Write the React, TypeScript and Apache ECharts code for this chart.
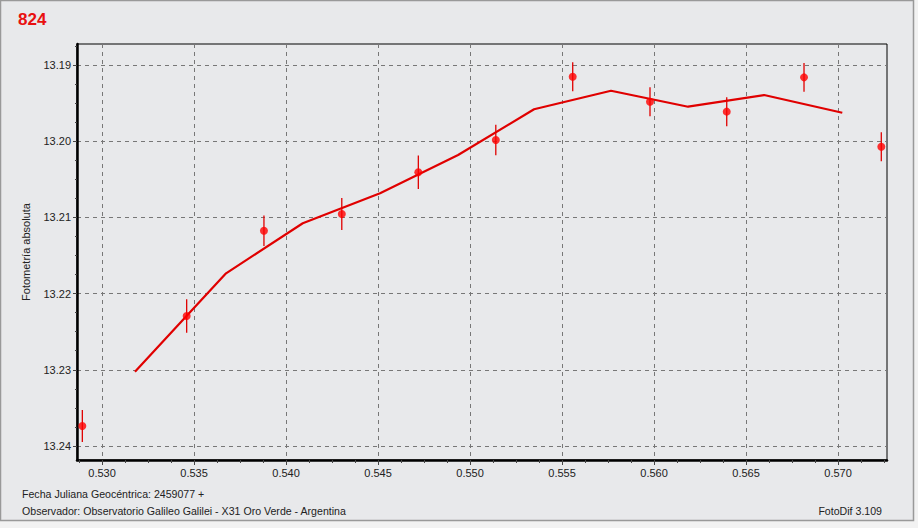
import React, { useEffect, useRef } from "react";
import * as echarts from "echarts";

// Observations: JD fraction (2459077 +), magnitude, error
const obsJD = [0.52893, 0.5346, 0.5388, 0.54303, 0.54719, 0.5514, 0.55558, 0.55978, 0.56395, 0.56815, 0.57235];
const obsMag = [13.23738, 13.22294, 13.21174, 13.20955, 13.20408, 13.19984, 13.19153, 13.19481, 13.19612, 13.19162, 13.20072];
const obsErr = [0.0021, 0.0022, 0.002, 0.0021, 0.0022, 0.002, 0.0019, 0.0019, 0.0019, 0.0019, 0.0019];

// Fitted curve
const fitJD = [0.53179, 0.53674, 0.54091, 0.54511, 0.54935, 0.55348, 0.55766, 0.56185, 0.56598, 0.57023];
const fitMag = [13.23025, 13.21734, 13.21077, 13.20684, 13.20181, 13.19581, 13.19337, 13.19547, 13.19394, 13.19626];

// Axis ticks
const xTicks = [0.53, 0.535, 0.54, 0.545, 0.55, 0.555, 0.56, 0.565, 0.57];
const yTicks = [13.19, 13.2, 13.21, 13.22, 13.23, 13.24];
const xMin = 0.52864;
const xMax = 0.57266;
const yMin = 13.18724;
const yMax = 13.24184;

const titleText = "824";
const yAxisTitle = "Fotometría absoluta";
const footer1 = "Fecha Juliana Geocéntrica: 2459077 +";
const footer2 = "Observador: Observatorio Galileo Galilei - X31 Oro Verde - Argentina";
const footerRight = "FotoDif 3.109";

function minorValues(major: number[], parts: number, lo: number, hi: number): number[] {
  const step = (major[1] - major[0]) / parts;
  const out: number[] = [];
  for (let k = -parts; k <= (major.length - 1) * parts + parts; k++) {
    if (k % parts === 0) continue;
    const v = Math.round((major[0] + k * step) * 1e6) / 1e6;
    if (v > lo && v < hi) out.push(v);
  }
  return out;
}

const FONT = "Liberation Sans";
const TXT = "#222";
const BG = "#e8e9eb";

export default function App() {
  const ref = useRef<HTMLDivElement>(null);
  useEffect(() => {
    document.body.style.margin = "0";
    document.body.style.background = "#f2f2f2";
    const chart = echarts.init(ref.current!, null, { renderer: "svg" });
    const points = obsJD.map((x, i) => [x, obsMag[i]]);
    const bars = obsJD.map((x, i) => [x, obsMag[i], obsErr[i]]);
    const fit = fitJD.map((x, i) => [x, fitMag[i]]);
    const xMinor = minorValues(xTicks, 4, xMin, xMax);
    const yMinor = minorValues(yTicks, 4, yMin, yMax);
    const grid = { left: 77, top: 44, right: 31, bottom: 68 };
    chart.setOption({
      animation: false,
      backgroundColor: "transparent",
      graphic: [
        {
          type: "rect",
          shape: { x: 0.5, y: 0.5, width: 913, height: 520 },
          style: { fill: BG, stroke: "#999", lineWidth: 1.5 },
          z: -10,
          silent: true,
        },
        {
          type: "text",
          left: 18,
          top: 11,
          style: { text: titleText, fill: "#e81010", font: `bold 17px ${FONT}` },
        },
        {
          type: "text",
          left: 22,
          top: 488,
          style: { text: footer1, fill: TXT, font: `10.6px ${FONT}` },
        },
        {
          type: "text",
          left: 22,
          top: 505,
          style: { text: footer2, fill: TXT, font: `10.6px ${FONT}` },
        },
        {
          type: "text",
          right: 36,
          top: 505,
          style: { text: footerRight, fill: TXT, font: `10.6px ${FONT}` },
        },
      ],
      grid: {
        ...grid,
        show: true,
        borderColor: "#000",
        borderWidth: 1,
        backgroundColor: "transparent",
      },
      xAxis: [
        {
          type: "value",
          min: xMin,
          max: xMax,
          axisLine: { show: true, lineStyle: { color: "#000", width: 2.5 } },
          axisTick: { show: true, customValues: xTicks, length: 5, lineStyle: { color: "#444" } },
          axisLabel: {
            customValues: xTicks,
            margin: 7,
            color: TXT,
            fontFamily: FONT,
            fontSize: 11,
            formatter: (v: number) => v.toFixed(3),
          },
          splitLine: { show: true, lineStyle: { color: "#777", type: [4, 4], width: 1 } },
        },
        {
          type: "value",
          min: xMin,
          max: xMax,
          position: "bottom",
          axisLine: { show: false },
          axisTick: { show: true, customValues: xMinor, length: 3, lineStyle: { color: "#444" } },
          axisLabel: { show: false },
          splitLine: { show: false },
        },
      ],
      yAxis: [
        {
          type: "value",
          inverse: true,
          min: yMin,
          max: yMax,
          name: yAxisTitle,
          nameLocation: "middle",
          nameGap: 46,
          nameTextStyle: { color: TXT, fontFamily: FONT, fontSize: 11 },
          axisLine: { show: true, lineStyle: { color: "#000", width: 2.5 } },
          axisTick: { show: true, customValues: yTicks, length: 4, lineStyle: { color: "#444" } },
          axisLabel: {
            customValues: yTicks,
            margin: 6,
            color: TXT,
            fontFamily: FONT,
            fontSize: 11,
            formatter: (v: number) => v.toFixed(2),
          },
          splitLine: { show: true, lineStyle: { color: "#777", type: [4, 4], width: 1 } },
        },
        {
          type: "value",
          inverse: true,
          min: yMin,
          max: yMax,
          position: "left",
          axisLine: { show: false },
          axisTick: { show: true, customValues: yMinor, length: 2, lineStyle: { color: "#444" } },
          axisLabel: { show: false },
          splitLine: { show: false },
        },
      ],
      series: [
        {
          type: "line",
          data: fit,
          showSymbol: false,
          symbol: "none",
          lineStyle: { color: "#e00000", width: 2.2 },
          z: 2,
        },
        {
          type: "custom",
          data: bars,
          renderItem: (params: any, api: any) => {
            const x = api.value(0);
            const y = api.value(1);
            const e = api.value(2);
            const p1 = api.coord([x, y - e]);
            const p2 = api.coord([x, y + e]);
            return {
              type: "line",
              shape: { x1: p1[0], y1: p1[1], x2: p2[0], y2: p2[1] },
              style: { stroke: "#e00000", lineWidth: 1.3 },
            };
          },
          z: 3,
        },
        {
          type: "scatter",
          data: points,
          symbol: "circle",
          symbolSize: 8,
          itemStyle: { color: "#ff0000" },
          z: 4,
        },
      ],
    });
    return () => chart.dispose();
  }, []);
  return <div ref={ref} style={{ width: 918, height: 528 }} />;
}
